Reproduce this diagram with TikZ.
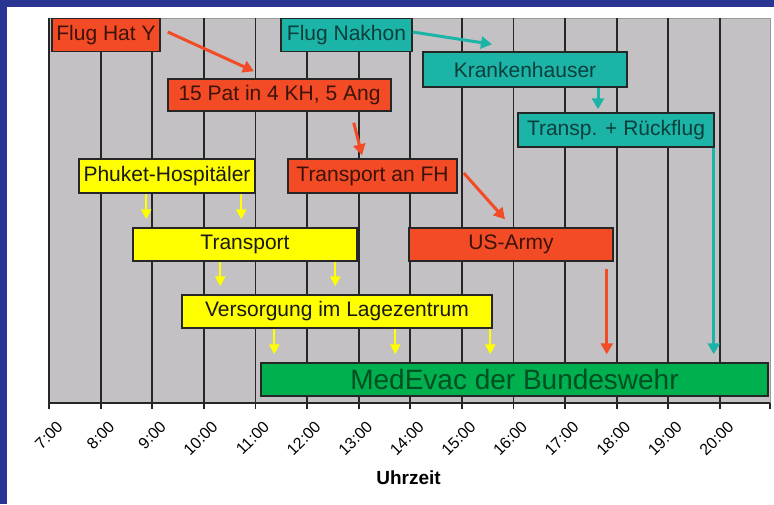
\documentclass[tikz,border=0pt]{standalone}
\usepackage{fontspec}
\setmainfont{Liberation Sans}
\usetikzlibrary{arrows.meta,calc}
\definecolor{hred}{HTML}{F24B25}
\definecolor{hteal}{HTML}{1DB4A8}
\definecolor{hyellow}{HTML}{FFFF00}
\definecolor{hgreen}{HTML}{00B04F}
\definecolor{plotgray}{HTML}{C3C1C3}
\definecolor{frameblue}{HTML}{2A3492}
\tikzset{
  box/.style={draw=black!85, line width=1.5pt, inner sep=0pt, minimum height=33pt, font=\fontsize{21}{24}\selectfont},
  redbox/.style={box, fill=hred, text=hred!25!black},
  tealbox/.style={box, fill=hteal, text=hteal!35!black},
  yellowbox/.style={box, fill=hyellow, text=black!90},
  greenbox/.style={box, fill=hgreen, text=hgreen!45!black, font=\fontsize{28}{32}\selectfont},
  redarrow/.style={>={Triangle[length=11pt,width=12pt]}, ->, draw=hred, line width=3pt},
  tealarrow/.style={>={Triangle[length=11pt,width=12pt]}, ->, draw=hteal, line width=3pt},
  yellowarrow/.style={>={Triangle[length=10pt,width=10pt]}, ->, draw=hyellow, line width=2.4pt},
  gridline/.style={draw=black!85, line width=1.8pt},
  hourlabel/.style={rotate=45, anchor=east, inner sep=0pt, font=\fontsize{16}{18}\selectfont}
}
\begin{document}
\begin{tikzpicture}[x=1pt,y=-1pt]
\useasboundingbox (0,0) rectangle (774,504);
\fill[frameblue] (0,0) rectangle (774,504);
\fill[white] (7,7) rectangle (774,504);
\fill[plotgray] (49,18) rectangle (770,403);
\draw[gray!80, line width=1pt] (49,18) rectangle (770,403);
\foreach \h [count=\i from 0] in {7,...,20} {
  \draw[gridline] ({49+51.6*\i},18) -- ({49+51.6*\i},409);
  \node[hourlabel] (t\h) at ({60+51.6*\i},424) {\h:00};
}
\draw[gridline] (770,403) -- (770,409);
\draw[gridline] (49,403) -- (770,403);
\node[font=\bfseries\fontsize{19}{22}\selectfont] (uhr) at (408.5,478) {Uhrzeit};
\node[redbox, minimum width=108pt] (hat) at (106,35) {Flug Hat Y};
\node[tealbox, minimum width=131pt] (nakhon) at (346.5,35) {Flug Nakhon};
\node[tealbox, minimum width=204pt, minimum height=35pt] (kh) at (525,69.5) {Krankenhauser};
\node[redbox, minimum width=223pt, minimum height=32pt] (pat) at (279.5,95) {15 Pat in 4 KH, 5 Ang};
\node[tealbox, minimum width=196pt, minimum height=34pt] (rueck) at (616,130) {Transp. + Rückflug};
\node[yellowbox, minimum width=176pt, minimum height=34pt] (phuket) at (167,176) {Phuket-Hospitäler};
\node[redbox, minimum width=169pt, minimum height=34pt] (fh) at (372.5,176) {Transport an FH};
\node[yellowbox, minimum width=224pt] (transport) at (245,244.5) {Transport};
\node[redbox, minimum width=204pt] (army) at (511,244.5) {US-Army};
\node[yellowbox, minimum width=310pt] (versorg) at (337,311.5) {Versorgung im Lagezentrum};
\node[greenbox, minimum width=507pt] (medevac) at (514.5,379.5) {MedEvac der Bundeswehr};
\draw[redarrow] ($(hat.east)+(7,-3)$) -- ($(pat.north)+(-25.5,-7)$);
\draw[redarrow] ($(pat.south east)+(-38,11)$) -- ($(fh.north)+(-10.5,-3)$);
\draw[redarrow] ($(fh.east)+(6,-3)$) -- ($(army.north)+(-6,-8)$);
\draw[redarrow] ($(army.south east)+(-7,7)$) -- ($(army.south east |- medevac.north)+(-7,-8)$);
\draw[tealarrow] ($(nakhon.east)+(0,-3)$) -- ($(kh.north)+(-33,-7)$);
\draw[tealarrow] ($(kh.south)+(73,0)$) -- ($(rueck.north)+(-18,-3)$);
\draw[tealarrow] ($(rueck.south east)+(-1,0)$) -- ($(rueck.south east |- medevac.north)+(-1,-8)$);
\draw[yellowarrow] ($(phuket.south west)+(68,0)$) -- ($(phuket.south west |- transport.north)+(68,-8)$);
\draw[yellowarrow] ($(phuket.south west)+(163,0)$) -- ($(phuket.south west |- transport.north)+(163,-8)$);
\draw[yellowarrow] ($(transport.south west)+(88,0)$) -- ($(transport.south west |- versorg.north)+(88,-8)$);
\draw[yellowarrow] ($(transport.south west)+(203,0)$) -- ($(transport.south west |- versorg.north)+(203,-8)$);
\draw[yellowarrow] ($(versorg.south west)+(93,0)$) -- ($(versorg.south west |- medevac.north)+(93,-8)$);
\draw[yellowarrow] ($(versorg.south west)+(214,0)$) -- ($(versorg.south west |- medevac.north)+(214,-8)$);
\draw[yellowarrow] ($(versorg.south west)+(309,0)$) -- ($(versorg.south west |- medevac.north)+(309,-8)$);
\end{tikzpicture}
\end{document}
